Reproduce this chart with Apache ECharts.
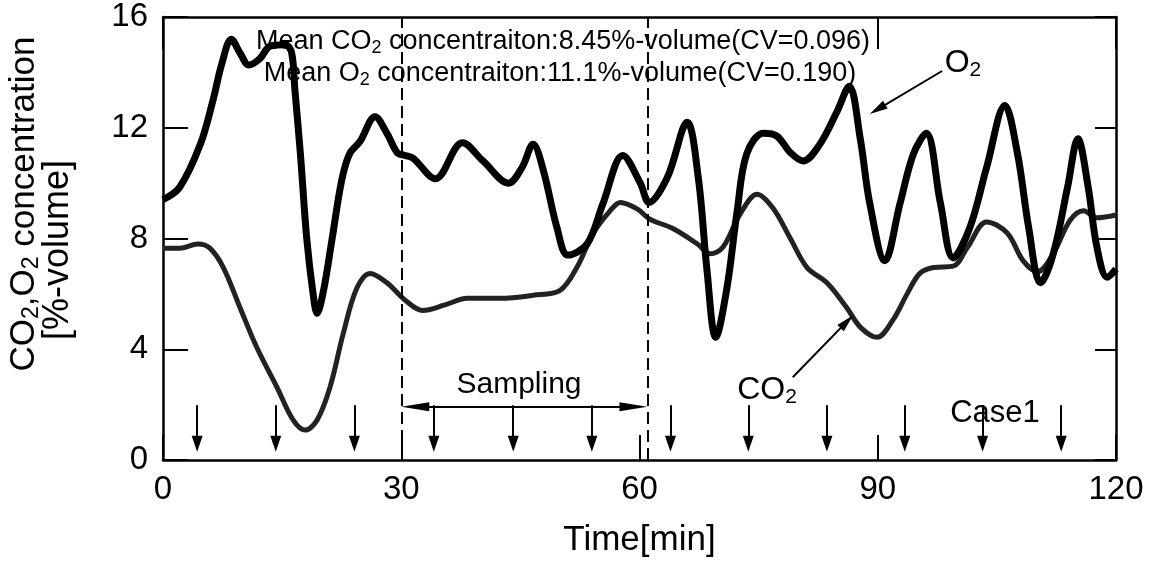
<!DOCTYPE html>
<html>
<head>
<meta charset="utf-8">
<script src="https://cdn.jsdelivr.net/npm/echarts@6/dist/echarts.min.js"></script>
<style>
  html, body { margin: 0; padding: 0; background: #fff; }
  #chart { width: 1154px; height: 565px; }
</style>
</head>
<body>
<div id="chart"></div>
<script>
// O2 concentration record [%-volume] against time [min]
const o2Time = [0, 2.1, 4.7, 6.3, 7.4, 8.6, 9.7, 10.8, 12.2, 13.5, 15.4, 16.2, 16.6, 17.3, 18.1, 18.9, 19.4, 20.2, 21.3, 22.5,
  23.5, 24.8, 26.7, 28.2, 29.5, 30.5, 31.5, 34.3, 37.7, 40.3, 43.5, 45.2, 46.6, 47.9, 49.6, 51.0, 53.4, 55.4, 57.9, 60.1,
  61.2, 63.5, 66.0, 67.4, 68.5, 69.6, 71.0, 72.3, 73.5, 75.6, 77.3, 79.0, 80.6, 82.7, 84.9, 86.4, 87.8, 89.0, 90.9, 92.8,
  94.5, 96.1, 97.9, 99.5, 101.6, 103.7, 106.0, 107.6, 109.0, 110.5, 112.1, 113.9, 115.2, 116.5, 117.6, 118.9, 120];
const o2Value = [9.4, 9.85, 11.4, 13.0, 14.3, 15.2, 14.7, 14.27, 14.5, 14.95, 15.0, 14.7, 13.4, 11.06, 8.0, 6.0, 5.3, 6.1, 8.0, 10.1,
  11.06, 11.5, 12.4, 11.8, 11.1, 11.0, 10.9, 10.16, 11.46, 10.8, 10.0, 10.56, 11.4, 10.45, 8.4, 7.4, 7.8, 9.26, 11.0, 10.0,
  9.3, 10.2, 12.2, 10.2, 6.85, 4.43, 6.2, 9.0, 11.06, 11.8, 11.7, 11.1, 10.8, 11.4, 12.6, 13.5, 11.6, 9.26, 7.2, 9.26,
  11.06, 11.8, 9.26, 7.3, 8.4, 10.56, 12.8, 11.06, 8.4, 6.4, 7.45, 9.85, 11.6, 9.85, 7.68, 6.6, 6.9];

// CO2 concentration record [%-volume] against time [min]
const co2Time = [0, 2.1, 4.4, 5.9, 7.6, 9.7, 11.8, 14.4, 16.4, 17.9, 19.4, 21.0, 22.7, 24.4, 26.1, 28.2, 30.5, 32.7, 35.5, 38.3,
  42.4, 46.6, 50.0, 52.1, 54.2, 56.3, 57.6, 59.7, 61.3, 64.2, 67.3, 68.9, 70.5, 72.7, 74.8, 76.8, 79.0, 81.1, 83.6, 86.1,
  87.8, 89.9, 91.9, 93.7, 95.3, 97.0, 99.5, 101.3, 103.7, 106.3, 108.3, 110.1, 112.1, 114.2, 115.9, 117.6, 120];
const co2Value = [7.65, 7.65, 7.8, 7.65, 6.95, 5.5, 4.07, 2.6, 1.44, 1.08, 1.44, 2.6, 4.57, 6.2, 6.74, 6.4, 5.77, 5.4, 5.6, 5.84,
  5.84, 5.95, 6.13, 6.95, 8.2, 9.0, 9.3, 9.07, 8.7, 8.36, 7.8, 7.45, 7.68, 8.9, 9.6, 9.1, 8.0, 6.95, 6.4, 5.5,
  4.8, 4.43, 5.05, 6.0, 6.74, 6.95, 7.0, 7.68, 8.6, 8.2, 7.2, 6.8, 7.45, 8.65, 9.0, 8.75, 8.85];

// Gas sampling instants [min] and the sampling window [min]
const samplingTimes = [4.3, 14.2, 24.1, 34.1, 44.1, 54.0, 63.9, 73.7, 83.6, 93.4, 103.2, 113.1];
const samplingWindow = [30, 61];

// Axis ranges and steps
const xRange = [0, 120], xStep = 30;
const yRange = [0, 16], yStep = 4;

const FONT = '"Liberation Sans", Arial, Helvetica, sans-serif';

// plot box in pixels, used to size arrowheads in data units
const GRID = { left: 163, right: 38, top: 17, bottom: 105 };
const pxPerMin = (1154 - GRID.left - GRID.right) / (xRange[1] - xRange[0]);
const pxPerUnit = (565 - GRID.top - GRID.bottom) / (yRange[1] - yRange[0]);

function pairs(xs, ys) { return xs.map((x, i) => [x, ys[i]]); }

// rich-text styles: normal text plus a lowered subscript
function richStyle(size) {
  return {
    n: { fontSize: size, fontFamily: FONT, color: '#000', lineHeight: size + 4 },
    s: { fontSize: Math.round(size * 0.66), fontFamily: FONT, color: '#000',
         lineHeight: Math.round(size * 0.5), verticalAlign: 'bottom' }
  };
}
function textEl(x, y, text, size, rotation) {
  return {
    type: 'text', x: x, y: y, rotation: rotation || 0, z: 1,
    style: { text: text, rich: richStyle(size), align: 'center', verticalAlign: 'middle',
             textAlign: 'center', textVerticalAlign: 'middle' }
  };
}

// arrow from `from` to tip `to`; the head symbol is centred on its end point,
// so the end point is pulled back by half the head length
function arrow(from, to, head) {
  const dxp = (from[0] - to[0]) * pxPerMin;
  const dyp = -(from[1] - to[1]) * pxPerUnit;
  const len = Math.hypot(dxp, dyp);
  const k = head[1] / 2 / len;
  const end = [to[0] + (from[0] - to[0]) * k, to[1] + (from[1] - to[1]) * k];
  return [
    { coord: from, symbol: 'none' },
    { coord: end, symbol: 'triangle', symbolSize: head }
  ];
}

const markLines = [];
samplingTimes.forEach(t => markLines.push(arrow([t, 1.98], [t, 0.3], [11, 16])));
// double-headed sampling window arrow
(function () {
  const head = [9, 28];
  const half = head[1] / 2 / pxPerMin;
  markLines.push([
    { coord: [samplingWindow[0] + half, 1.92], symbol: 'triangle', symbolSize: head },
    { coord: [samplingWindow[1] - half, 1.92], symbol: 'triangle', symbolSize: head }
  ]);
})();
// pointers to the curves
markLines.push(arrow([98.1, 14.05], [89.0, 12.5], [9, 18]));
markLines.push(arrow([79.3, 2.99], [86.9, 5.23], [9, 18]));

const dashedBounds = samplingWindow.map(t => ({
  xAxis: t, symbol: 'none',
  lineStyle: { color: '#000', width: 2, type: [12, 6] }
}));

const chart = echarts.init(document.getElementById('chart'), null, { renderer: 'canvas' });

chart.setOption({
  animation: false,
  backgroundColor: '#fff',
  grid: GRID,
  xAxis: [{
    type: 'value', min: xRange[0], max: xRange[1], interval: xStep,
    name: 'Time[min]', nameLocation: 'middle', nameGap: 63,
    nameTextStyle: { fontSize: 35, fontFamily: FONT, color: '#000' },
    axisLine: { lineStyle: { color: '#000', width: 2.5 } },
    axisTick: { inside: true, length: 25, lineStyle: { color: '#000', width: 2 } },
    axisLabel: { fontSize: 33, fontFamily: FONT, color: '#000', margin: 13 },
    splitLine: { show: false }
  }, {
    type: 'value', position: 'top', min: xRange[0], max: xRange[1], interval: 90,
    axisLine: { show: true, onZero: false, lineStyle: { color: '#000', width: 2.5 } },
    axisTick: { inside: true, length: 32, lineStyle: { color: '#000', width: 2 } },
    axisLabel: { show: false }, splitLine: { show: false }
  }],
  yAxis: [{
    type: 'value', min: yRange[0], max: yRange[1], interval: yStep,
    axisLine: { show: true, lineStyle: { color: '#000', width: 2.5 } },
    axisTick: { show: true, inside: true, length: 25, lineStyle: { color: '#000', width: 2 } },
    axisLabel: { fontSize: 33, fontFamily: FONT, color: '#000', margin: 15 },
    splitLine: { show: false }
  }, {
    type: 'value', position: 'right', min: yRange[0], max: yRange[1], interval: yStep,
    axisLine: { show: true, onZero: false, lineStyle: { color: '#000', width: 2.5 } },
    axisTick: { show: true, inside: true, length: 21, lineStyle: { color: '#000', width: 2 } },
    axisLabel: { show: false }, splitLine: { show: false }
  }],
  series: [{
    name: 'CO2', type: 'line', data: pairs(co2Time, co2Value),
    showSymbol: false, smooth: 0.35, z: 3,
    lineStyle: { color: '#222', width: 5 }
  }, {
    name: 'O2', type: 'line', data: pairs(o2Time, o2Value),
    showSymbol: false, smooth: 0.35, z: 4,
    lineStyle: { color: '#000', width: 7 },
    markLine: {
      silent: true, animation: false, label: { show: false },
      symbol: ['none', 'none'],
      lineStyle: { color: '#000', width: 2, type: 'solid' },
      data: dashedBounds.concat(markLines)
    }
  }],
  graphic: [
    textEl(563, 42, '{n|Mean CO}{s|2}{n| concentraiton:8.45%-volume(CV=0.096)}', 27),
    textEl(560, 74, '{n|Mean O}{s|2}{n| concentraiton:11.1%-volume(CV=0.190)}', 27),
    textEl(963, 63, '{n|O}{s|2}', 32),
    textEl(767, 390, '{n|CO}{s|2}', 32),
    textEl(519, 385, '{n|Sampling}', 30),
    textEl(995, 413, '{n|Case1}', 31),
    textEl(24, 204, '{n|CO}{s|2}{n|,O}{s|2}{n| concentration}', 35, Math.PI / 2),
    textEl(58, 250, '{n|[%-volume]}', 36, Math.PI / 2)
  ]
});
</script>
</body>
</html>
